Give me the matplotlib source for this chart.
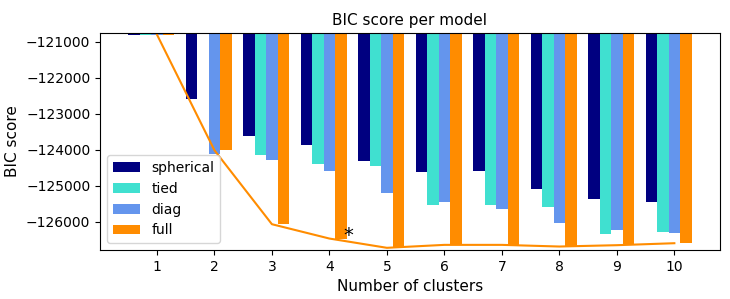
import matplotlib
matplotlib.use("Agg")
import matplotlib.pyplot as plt
import numpy as np

# BIC по типам коваріації
n_components_range = np.arange(1, 11)
cv_types = ['spherical', 'tied', 'diag', 'full']
colors = ['navy', 'turquoise', 'cornflowerblue', 'darkorange']

bic_spherical = [-120795, -122578, -123626, -123858, -124303, -124609, -124581, -125082, -125360, -125444]
bic_tied = [-120795, -120750, -124136, -124386, -124442, -125545, -125545, -125582, -126333, -126277]
bic_diag = [-120795, -124108, -124275, -124581, -125193, -125444, -125638, -126027, -126222, -126305]
bic_full = [-120795, -124015, -126074, -126473, -126731, -126649, -126649, -126695, -126658, -126603]

best_n = 4  # обрана модель (позначена зірочкою)

bic = np.array(bic_spherical + bic_tied + bic_diag + bic_full)
series = [bic_spherical, bic_tied, bic_diag, bic_full]

fig = plt.figure(figsize=(7.3, 2.99), dpi=100)
spl = fig.add_axes([0.137, 0.164, 0.849, 0.726])

bars = []
for i, (vals, color) in enumerate(zip(series, colors)):
    xpos = n_components_range + .2 * (i - 2)
    bars.append(spl.bar(xpos, vals, width=.2, color=color))

spl.plot(n_components_range, bic_full, color='darkorange', linewidth=1.5)

spl.set_xticks(n_components_range)
spl.set_ylim([bic.min() * 1.01 - .01 * bic.max(), bic.max()])
spl.set_title('BIC score per model', fontsize=11)

xpos = best_n + .25
spl.text(xpos, bic.min() * 0.97 + .03 * bic.max(), '*', fontsize=14)

spl.set_xlabel('Number of clusters', fontsize=11)
spl.set_ylabel('BIC score', fontsize=11)
spl.legend([b[0] for b in bars], cv_types, loc='lower left')

fig.savefig('out.png', dpi=100)
